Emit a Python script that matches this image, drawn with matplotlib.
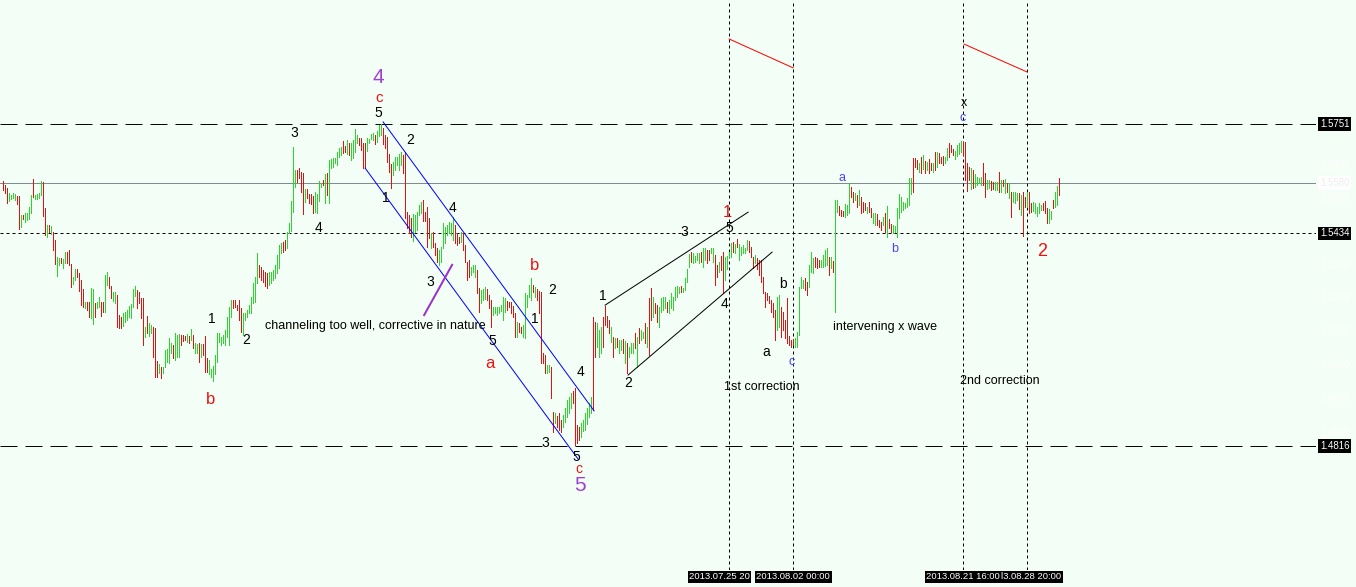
import numpy as np
import matplotlib
matplotlib.use("Agg")
import matplotlib.pyplot as plt

# H4 bars, high / low in points (price * 10000) left to right
highs = [
    15585, 15573, 15565, 15550, 15544, 15550, 15547, 15542, 15542, 15486,
    15486, 15492, 15492, 15510, 15544, 15591, 15544, 15547, 15550, 15585,
    15582, 15507, 15457, 15457, 15455, 15437, 15414, 15365, 15362, 15362,
    15359, 15379, 15379, 15385, 15344, 15307, 15330, 15330, 15318, 15298,
    15272, 15234, 15234, 15234, 15275, 15272, 15231, 15234, 15249, 15234,
    15234, 15312, 15321, 15307, 15281, 15263, 15263, 15254, 15196, 15191,
    15202, 15205, 15211, 15223, 15228, 15272, 15281, 15269, 15263, 15246,
    15246, 15162, 15194, 15173, 15167, 15162, 15159, 15063, 15054, 15046,
    15046, 15095, 15098, 15130, 15115, 15109, 15144, 15138, 15141, 15138,
    15138, 15136, 15141, 15136, 15156, 15138, 15115, 15112, 15115, 15112,
    15112, 15136, 15072, 15066, 15040, 15049,
    15080, 15144, 15144, 15133, 15138, 15153, 15191, 15220, 15240, 15240,
    15240, 15225, 15240, 15217, 15202, 15202, 15211, 15225, 15249, 15289,
    15307, 15376, 15341, 15336, 15327, 15321, 15318, 15321, 15321, 15327,
    15341, 15370, 15399, 15405, 15408, 15414, 15437, 15463,
    15527, 15685, 15617, 15617, 15623, 15611, 15608, 15562, 15562, 15547,
    15547, 15542, 15553, 15547, 15585, 15579, 15588, 15605, 15608, 15646,
    15650, 15653, 15653, 15670, 15682, 15685, 15702, 15688, 15705, 15696,
    15696, 15705, 15737, 15719, 15711, 15711, 15696, 15696, 15711, 15708,
    15722, 15725, 15719, 15731, 15748, 15751, 15740, 15719, 15714, 15664,
    15635, 15640, 15655, 15655, 15664, 15670, 15661, 15670, 15495, 15486,
    15478, 15489, 15486, 15495, 15516, 15524, 15530, 15495,
    15510, 15478, 15434, 15437, 15405, 15391, 15385, 15394, 15463, 15452,
    15457, 15466, 15463, 15481, 15457, 15434, 15423, 15437, 15434, 15399,
    15350, 15356, 15336, 15341, 15341, 15327, 15275, 15269, 15272, 15278,
    15272, 15254, 15240, 15220, 15220, 15220, 15220, 15225, 15249, 15246,
    15237, 15234, 15234, 15223, 15202, 15176, 15173, 15162, 15167, 15260,
    15254, 15283, 15304, 15283, 15278, 15272, 15266, 15263, 15086, 15080,
    15051, 15051, 15046, 14914, 14911, 14902, 14911, 14891, 14905, 14926,
    14950, 14959, 14970, 14976, 14985, 14876, 14871, 14882, 14891, 14911,
    14926, 14941, 14959, 15191, 15176, 15173, 15153, 15162, 15191, 15223,
    15194, 15182, 15162, 15133, 15130, 15130, 15124, 15124, 15127, 15121,
    15115, 15104, 15115, 15115, 15144, 15133,
    15159, 15153, 15147, 15173, 15162, 15246, 15275, 15249, 15231, 15225,
    15220, 15246, 15249, 15249, 15234, 15240, 15260, 15249, 15278, 15281,
    15278, 15281, 15275, 15304, 15330, 15373, 15379, 15376, 15368, 15376,
    15376, 15379, 15391, 15391, 15385, 15385, 15391, 15391, 15370, 15341,
    15350, 15368, 15379, 15365, 15368, 15379, 15405, 15408, 15402, 15417,
    15402, 15394, 15399, 15391, 15414, 15411, 15394, 15365, 15370, 15362,
    15356, 15356, 15307, 15263, 15260, 15252, 15240, 15231, 15211, 15249,
    15254, 15220, 15205, 15182, 15246, 15136, 15124, 15127, 15130, 15147,
    15278, 15307, 15298, 15304, 15292, 15341, 15379, 15362, 15365, 15362,
    15356, 15356, 15370, 15385, 15391, 15365, 15365, 15353, 15530, 15530,
    15513, 15501, 15498, 15518, 15516,
    15580, 15568, 15553, 15550, 15544, 15559, 15539, 15524, 15521, 15510,
    15524, 15507, 15492, 15492, 15489, 15472, 15466, 15481, 15492, 15513,
    15475, 15460, 15457, 15455, 15507, 15547, 15539, 15524, 15521, 15536,
    15594, 15594, 15653, 15653, 15646, 15637, 15655, 15661, 15643, 15640,
    15649, 15637, 15637, 15670, 15670, 15667, 15655, 15658, 15655, 15682,
    15696, 15690, 15679, 15673, 15690, 15696, 15702, 15699, 15699, 15637,
    15626, 15623, 15617, 15605, 15597, 15594, 15597, 15637, 15608, 15588,
    15588, 15585, 15582, 15582, 15582, 15611, 15588, 15588, 15591, 15579,
    15579, 15553, 15553, 15553, 15550, 15550, 15544, 15553, 15539, 15553,
    15553, 15521, 15524, 15521, 15510, 15521, 15516, 15521, 15527, 15507,
    15504, 15498, 15530, 15553, 15571, 15594,
]

lows = [
    15559, 15550, 15521, 15527, 15533, 15536, 15530, 15518, 15446, 15452,
    15475, 15466, 15472, 15475, 15492, 15539, 15533, 15533, 15536, 15544,
    15484, 15428, 15423, 15437, 15431, 15385, 15344, 15310, 15341, 15347,
    15333, 15347, 15347, 15341, 15278, 15286, 15298, 15307, 15266, 15225,
    15220, 15217, 15211, 15191, 15188, 15170, 15191, 15217, 15220, 15194,
    15205, 15205, 15283, 15275, 15246, 15237, 15231, 15162, 15159, 15159,
    15165, 15176, 15182, 15191, 15188, 15220, 15252, 15217, 15231, 15188,
    15109, 15133, 15144, 15136, 15144, 15075, 15017, 15017, 15028, 15014,
    15028, 15046, 15060, 15057, 15086, 15072, 15066, 15075, 15075, 15109,
    15121, 15124, 15118, 15115, 15124, 15101, 15086, 15086, 15060, 15075,
    15080, 15031, 15031, 15025, 15017, 15005,
    15025, 15060, 15118, 15109, 15115, 15109, 15133, 15109, 15191, 15217,
    15220, 15211, 15182, 15147, 15138, 15182, 15191, 15202, 15202, 15231,
    15234, 15289, 15307, 15298, 15292, 15281, 15275, 15283, 15289, 15298,
    15304, 15318, 15333, 15376, 15379, 15385, 15391, 15434,
    15440, 15495, 15568, 15582, 15594, 15553, 15489, 15524, 15536, 15521,
    15518, 15492, 15495, 15492, 15527, 15568, 15573, 15521, 15544, 15521,
    15623, 15626, 15637, 15632, 15656, 15661, 15667, 15670, 15664, 15661,
    15646, 15652, 15670, 15696, 15690, 15676, 15623, 15623, 15673, 15696,
    15708, 15705, 15693, 15699, 15716, 15719, 15693, 15682, 15640, 15611,
    15565, 15603, 15617, 15632, 15617, 15632, 15608, 15478, 15449, 15434,
    15423, 15411, 15437, 15443, 15486, 15492, 15469, 15469,
    15394, 15420, 15391, 15394, 15370, 15350, 15341, 15350, 15391, 15405,
    15428, 15434, 15428, 15414, 15405, 15399, 15405, 15408, 15385, 15350,
    15298, 15307, 15312, 15321, 15307, 15260, 15205, 15231, 15240, 15243,
    15240, 15217, 15162, 15196, 15202, 15196, 15202, 15208, 15182, 15205,
    15211, 15220, 15202, 15191, 15133, 15133, 15147, 15144, 15133, 15130,
    15220, 15249, 15240, 15263, 15249, 15240, 15202, 15057, 15057, 15028,
    15028, 15031, 14956, 14856, 14882, 14871, 14862, 14856, 14871, 14885,
    14900, 14911, 14926, 14941, 14818, 14824, 14833, 14842, 14859, 14862,
    14879, 14900, 14911, 14920, 15075, 15104, 15075, 15086, 15104, 15167,
    15162, 15144, 15118, 15075, 15101, 15104, 15086, 15095, 15086, 15057,
    15028, 15075, 15086, 15086, 15101, 15046,
    15115, 15124, 15130, 15115, 15104, 15080, 15182, 15191, 15202, 15176,
    15162, 15205, 15211, 15217, 15205, 15202, 15217, 15211, 15240, 15249,
    15260, 15263, 15263, 15269, 15292, 15336, 15350, 15347, 15350, 15356,
    15347, 15350, 15336, 15356, 15347, 15356, 15376, 15350, 15283, 15307,
    15321, 15327, 15260, 15298, 15330, 15365, 15365, 15379, 15376, 15394,
    15356, 15370, 15376, 15376, 15385, 15379, 15365, 15333, 15347, 15330,
    15312, 15292, 15260, 15220, 15240, 15231, 15205, 15191, 15124, 15153,
    15162, 15133, 15153, 15130, 15115, 15109, 15104, 15109, 15104, 15104,
    15138, 15275, 15275, 15269, 15254, 15278, 15321, 15318, 15336, 15333,
    15336, 15336, 15336, 15339, 15341, 15312, 15333, 15321, 15205, 15495,
    15486, 15484, 15484, 15481, 15486,
    15492, 15539, 15524, 15530, 15510, 15516, 15492, 15495, 15501, 15492,
    15495, 15481, 15463, 15457, 15457, 15452, 15443, 15457, 15437, 15423,
    15449, 15437, 15434, 15437, 15423, 15478, 15495, 15501, 15507, 15510,
    15516, 15547, 15553, 15626, 15620, 15611, 15608, 15620, 15608, 15617,
    15608, 15617, 15611, 15617, 15626, 15637, 15637, 15632, 15637, 15646,
    15655, 15670, 15661, 15649, 15658, 15664, 15670, 15661, 15588, 15556,
    15588, 15562, 15565, 15568, 15573, 15580, 15573, 15573, 15539, 15562,
    15565, 15559, 15562, 15559, 15559, 15553, 15553, 15571, 15550, 15553,
    15536, 15481, 15524, 15521, 15530, 15504, 15486, 15426, 15510, 15510,
    15492, 15495, 15498, 15492, 15484, 15492, 15501, 15501, 15492, 15463,
    15463, 15475, 15507, 15510, 15516, 15544,
]

# g = up bar, r = down bar
direction = (
    "rrrggggrrgrggggrggggrrgrgrrggrggrrrggrrrrgrrggrggrrggrrggrrr"
    "gggggggrrrrgrggrrrgrgggggrgggrrrgrgrggrgrrrggg"
    "gggggggggrrrrrggggggggrrrrrgggggggrrgg"
    "gggrrrrgrrrrggggrgrgggggggrrgrggggrrrrggggrgggrrrrrgggggrrrrrgggggrr"
    "rrgrrrggggggggrrrgrrrrgggrrgggrrrgggggggrrrrrgrrgggggrgrrrrr"
    "ggrrgrrrgggggrrrrggggggrrgggrrrrgrgrggrgrgggr"
    "grggrgrrgrrggggrggggggrggggrggggrggrrggrrgrrggggrgrgggggrrrgr"
    "rrrrrrrrrggrrrrrrrgggggrrgggrrrggggrgrggrrrgg"
    "grrgrgrrrgrrggrrrgrgrrggggggggggrrrgrgrgrrgrgrrrggrrrggggrr"
    "rrgrggggrrggrrggrgrgrgrgggrgrrgrrgggggrrrggrgg"
)

level_top = 1.5751
level_mid = 1.5434
level_low = 1.4816
last_price = 1.5580
scale_ticks = [1.5630, 1.5535, 1.5340, 1.5245, 1.5150, 1.5050, 1.4955, 1.4855]

marker_bars = [363, 395, 480, 512]
# time labels as they show on the scale (neighbouring boxes clip each other)
time_labels = [(342.9, "left", "2013.07.25 20"), (395, "center", "2013.08.02 00:00"),
               (480, "center", "2013.08.21 16:00"), (499.0, "left", "l3.08.28 20:00")]

BG = "#F3FFF6"
UP = "#2BD62B"
DOWN = "#E01212"
RED = "#EE1111"
PURPLE = "#A040D8"
BLUE = "#4444FF"
PX = 0.72  # one pixel in points at dpi 100
FONT = ["Liberation Sans", "DejaVu Sans"]
plt.rcParams["font.family"] = FONT

W, H = 1356, 587
fig = plt.figure(figsize=(W / 100, H / 100), dpi=100)
fig.patch.set_facecolor(BG)
ax = fig.add_axes([0, 17 / H, 1316 / W, 570 / H])
ax.set_facecolor(BG)
for s in ax.spines.values():
    s.set_visible(False)
ax.set_xticks([])
ax.set_yticks([])

hi = np.array(highs) / 1e4
lo = np.array(lows) / 1e4
x = np.arange(len(hi))
cols = [UP if c == "g" else DOWN for c in direction[:len(hi)]]
ax.vlines(x, lo, hi, colors=cols, linewidth=PX, antialiased=False, zorder=3)

ax.set_xlim(-1.65, 656.35)
ax.set_ylim(1.445594, 1.611106)

# levels
ax.axhline(last_price, color="#7F8A92", lw=PX, zorder=2)
ax.axhline(level_top, color="black", lw=PX, ls=(0, (17, 8)), zorder=2)
ax.axhline(level_low, color="black", lw=PX, ls=(0, (17, 8)), zorder=2)
ax.axhline(level_mid, color="black", lw=PX, ls=(0, (3, 3)), zorder=2)
for b in marker_bars:
    ax.axvline(b, color="black", lw=PX, ls=(0, (3, 3)), zorder=2)

# hand drawn lines
ax.plot([189.9, 295.4], [1.5757, 1.4918], color="#0000FF", lw=PX, zorder=4)
ax.plot([180.9, 287.4], [1.5623, 1.4778], color="#0000FF", lw=PX, zorder=4)
ax.plot([210.4, 224.4], [1.5196, 1.5342], color="#9933CC", lw=2 * PX, zorder=4)
ax.plot([300.9, 372.4], [1.5225, 1.5495], color="black", lw=PX, zorder=4)
ax.plot([312.4, 384.4], [1.5022, 1.5379], color="black", lw=PX, zorder=4)
ax.plot([362.9, 394.9], [1.5998, 1.5914], color="#FF0000", lw=PX, zorder=4)
ax.plot([480.4, 511.9], [1.5983, 1.5902], color="#FF0000", lw=PX, zorder=4)

# wave counts: (bar, price, text, colour, size)
labels = [
    (187.4, 1.5885, "4", PURPLE, 15), (187.9, 1.5826, "c", RED, 11),
    (187.4, 1.5783, "5", "black", 10), (145.4, 1.5725, "3", "black", 10),
    (203.4, 1.5705, "2", "black", 10), (191.4, 1.5536, "1", "black", 10),
    (157.4, 1.5449, "4", "black", 10), (224.4, 1.5507, "4", "black", 10),
    (213.4, 1.5292, "3", "black", 10), (244.4, 1.5121, "5", "black", 10),
    (243.4, 1.5057, "a", RED, 12), (265.4, 1.5339, "b", RED, 12),
    (274.4, 1.5269, "2", "black", 10), (265.9, 1.5185, "1", "black", 10),
    (288.4, 1.5031, "4", "black", 10), (270.9, 1.4824, "3", "black", 10),
    (286.4, 1.4784, "5", "black", 10), (287.9, 1.4748, "c", RED, 10),
    (288.4, 1.4700, "5", PURPLE, 15), (104.4, 1.5185, "1", "black", 10),
    (121.4, 1.5124, "2", "black", 10), (103.4, 1.4950, "b", RED, 12),
    (299.9, 1.5252, "1", "black", 10), (312.4, 1.4999, "2", "black", 10),
    (340.4, 1.5437, "3", "black", 10), (361.9, 1.5495, "1", RED, 12),
    (362.9, 1.5449, "5", "black", 10), (360.4, 1.5228, "4", "black", 10),
    (389.9, 1.5286, "b", "black", 10), (381.4, 1.5089, "a", "black", 10),
    (394.4, 1.5060, "c", BLUE, 9), (419.4, 1.5594, "a", BLUE, 9),
    (445.9, 1.5388, "b", BLUE, 9), (480.4, 1.5812, "x", "black", 9),
    (479.9, 1.5768, "c", BLUE, 9), (519.4, 1.5382, "2", RED, 13),
]
for bx, by, t, c, fs in labels:
    ax.text(bx, by, t, color=c, fontsize=fs, ha="center", va="center", zorder=5)

notes = [
    (130.9, 1.5164, "channeling too well, corrective in nature"),
    (414.9, 1.5162, "intervening x wave"),
    (360.4, 1.4988, "1st correction"),
    (478.4, 1.5005, "2nd correction"),
]
for bx, by, t in notes:
    ax.text(bx, by, t, color="black", fontsize=9, ha="left", va="center", zorder=5)

# price scale on the right
ytr = ax.get_yaxis_transform()
for p in scale_ticks:
    ax.text(1.003, p, f"{p:.4f}", transform=ytr, color="white", fontsize=7,
            ha="left", va="center", clip_on=False)
for p in [level_top, level_mid, level_low]:
    ax.text(1.003, p, f"{p:.4f}", transform=ytr, color="white", fontsize=7,
            ha="left", va="center", clip_on=False,
            bbox=dict(fc="black", ec="none", pad=1.2))
ax.text(1.003, last_price, f"{last_price:.4f}", transform=ytr, color="#EEEEEE",
        fontsize=7, ha="left", va="center", clip_on=False,
        bbox=dict(fc="white", ec="none", pad=1.2))

# time scale boxes under the vertical markers
xtr = ax.get_xaxis_transform()
for bx, align, t in time_labels:
    ax.text(bx, -0.012, t, transform=xtr, color="white", fontsize=6.8,
            ha=align, va="center", clip_on=False, zorder=10,
            bbox=dict(fc="black", ec="none", pad=1.0))

fig.savefig("out.png", dpi=100, facecolor=BG)
